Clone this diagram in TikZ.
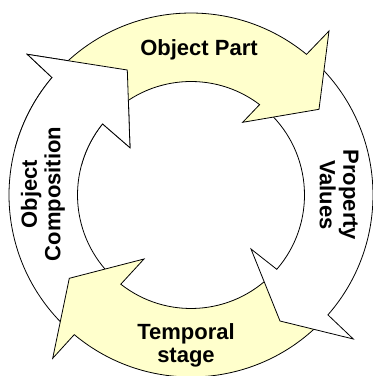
\documentclass[tikz,border=0pt]{standalone}
\usepackage{fontspec}
\setmainfont{Liberation Sans}
\usepackage{tikz}
\definecolor{paleyellow}{RGB}{255,255,204}
\tikzset{%
  ring/.style={draw=black,line width=.8pt},
  partring/.style={ring,fill=paleyellow},
  plainring/.style={ring,fill=white},
  ringtext/.style={font=\bfseries\fontsize{22}{23.5}\selectfont,align=center}}

\begin{document}
\begin{tikzpicture}[x=1pt,y=1pt]
\useasboundingbox (-191,-181) rectangle (182,195);
\draw[plainring] (227:182) arc[start angle=227,end angle=139.8,radius=182] -- (-163.7,140.7) -- (-63.7,125) -- (-61,47.3) -- (141.2:113.5) arc[start angle=141.2,end angle=227,radius=113.5] -- cycle;
\draw[partring]  (-44.5:182) arc[start angle=-44.5,end angle=-129.9,radius=182] -- (-138.3,-163.3) -- (-121.7,-83.3) -- (-47,-64) -- (-128.2:113.5) arc[start angle=-128.2,end angle=-44.5,radius=113.5] -- cycle;
\draw[plainring] (47:182) arc[start angle=47,end angle=-41.2,radius=182] -- (162.3,-144) -- (89,-126) -- (60,-54) -- (-40.9:113.5) arc[start angle=-40.9,end angle=47,radius=113.5] -- cycle;
\draw[partring]  (137:182) arc[start angle=137,end angle=50.6,radius=182] -- (138,164) -- (128,85.7) -- (51.7,72.7) -- (52.8:113.5) arc[start angle=52.8,end angle=137,radius=113.5] -- cycle;
\begin{scope}
\clip (0,0) -- (110:260) -- (165:260) -- cycle;
\draw[plainring] (227:182) arc[start angle=227,end angle=139.8,radius=182] -- (-163.7,140.7) -- (-63.7,125) -- (-61,47.3) -- (141.2:113.5) arc[start angle=141.2,end angle=227,radius=113.5] -- cycle;
\end{scope}
\node[ringtext] (part)   at (8,145.6)    {Object Part};
\node[ringtext,rotate=-90] (values) at (148.2,0) {Property\\Values};
\node[ringtext] (stage)  at (-5,-150.5)  {Temporal\\stage};
\node[ringtext,rotate=90] (comp)   at (-148,1) {Object\\Composition};
\end{tikzpicture}
\end{document}
